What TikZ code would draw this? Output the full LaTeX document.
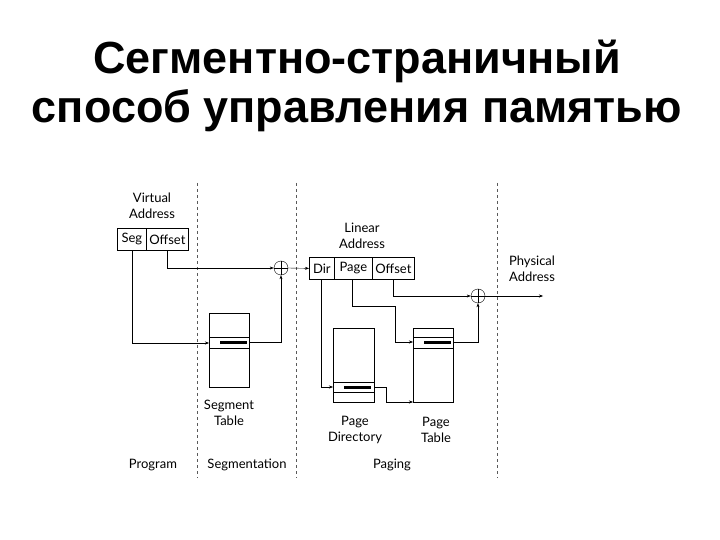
\documentclass[tikz,border=0pt]{standalone}
\usepackage{fontspec}
\setmainfont{Lato}
\newfontfamily\titlefont{Liberation Sans}
\usetikzlibrary{arrows.meta}
\begin{document}
\begin{tikzpicture}[x=1pt,y=-1pt,
  lbl/.style={font=\fontsize{13}{15.5}\selectfont,align=center,inner sep=0pt},
  cell/.style={draw,thick,minimum height=22pt,inner sep=0pt,font=\fontsize{13}{13}\selectfont,anchor=north west},
  tbl/.style={draw,thick,anchor=north west},
  arr/.style={thin,-{Stealth[length=4pt,width=3pt]}},
  sep/.style={dashed,thin,gray!70!black},
  op/.style={draw,thin,circle,minimum size=14pt,inner sep=0pt,path picture={\draw (path picture bounding box.north)--(path picture bounding box.south) (path picture bounding box.west)--(path picture bounding box.east);}}]
\useasboundingbox (0,0) rectangle (720,540);
\node[font=\titlefont\bfseries\fontsize{45}{49}\selectfont,align=center] (title) at (357,86) {Сегментно-страничный\\способ управления памятью};
\foreach \x/\n in {197/a,296/b,497/c}{\draw[sep] (\x,183) -- (\x,478);}
% virtual address
\node[lbl] (va) at (152,206) {Virtual\\Address};
\node[cell,minimum width=29pt] (seg) at (117,228) {Seg};
\node[cell,minimum width=42pt] (voff) at (146,228) {Offset};
\node[op] (p1) at (281,268) {};
% segment table
\node[tbl,minimum width=40pt,minimum height=74pt] (st) at (209,313) {};
\draw (209,337) -- (249,337) (209,348) -- (249,348);
\draw[line width=3pt] (220,342) -- (247,342);
\node[lbl] (stl) at (229,413) {Segment\\Table};
\coordinate (stin) at (209,343);
\coordinate (stout) at (249,342);
\draw[arr] (132,250) |- (stin);
\draw[arr] (167,250) |- (p1.west);
\draw[arr] (stout) -| (p1.south);
% linear address
\node[lbl] (la) at (362,236) {Linear\\Address};
\node[cell,minimum width=25pt] (dir) at (309,257) {Dir};
\node[cell,minimum width=38pt] (pg) at (334,257) {Page};
\node[cell,minimum width=42pt] (loff) at (372,257) {Offset};
\draw[arr] (p1.east) -- (dir.west);
% page directory
\node[tbl,minimum width=41pt,minimum height=74pt] (pd) at (333,328) {};
\draw (333,382) -- (374,382) (333,392) -- (374,392);
\draw[line width=3pt] (344,387) -- (371,387);
\node[lbl] (pdl) at (355,430) {Page\\Directory};
% page table
\node[tbl,minimum width=40pt,minimum height=74pt] (pt) at (413,328) {};
\draw (413,337) -- (453,337) (413,348) -- (453,348);
\draw[line width=3pt] (424,342) -- (451,342);
\node[lbl] (ptl) at (436,430) {Page\\Table};
\node[op] (p2) at (478,296) {};
\coordinate (pdin) at (333,387);
\coordinate (pdout) at (374,387);
\coordinate (ptin1) at (413,342);
\coordinate (ptin2) at (413,402);
\coordinate (ptout) at (453,342);
\coordinate (pa) at (543,296);
\draw[arr] (321,279) |- (pdin);
\draw[arr] (pdout) -- (386,387) |- (ptin2);
\draw[arr] (352,279) -- (352,306) -| (395,342) -- (ptin1);
\draw[arr] (393,279) |- (p2.west);
\draw[arr] (ptout) -| (p2.south);
\draw[arr] (p2.east) -- (pa);
\node[lbl] (pal) at (532,269) {Physical\\Address};
% bottom
\node[lbl] (prog) at (153,465) {Program};
\node[lbl] (segm) at (247,465) {Segmentation};
\node[lbl] (pag) at (392,465) {Paging};
\end{tikzpicture}
\end{document}
